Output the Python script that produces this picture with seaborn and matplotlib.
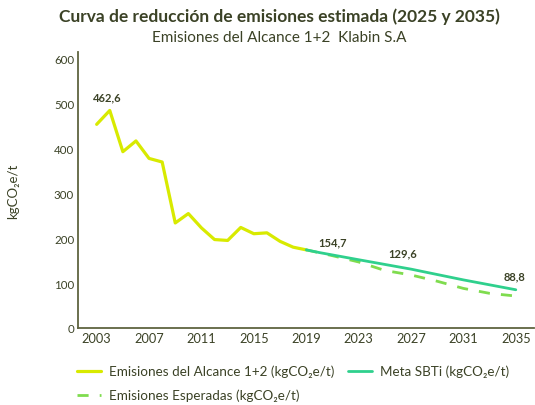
import matplotlib
matplotlib.use("Agg")
import matplotlib.pyplot as plt
import seaborn as sns
import pandas as pd

# ---- data ----
hist_years = list(range(2003, 2020))
hist_values = [454, 485, 393, 417, 378, 370, 234, 255, 223, 197, 195, 224, 210, 212, 193, 180, 174]

sbti_years = [2019, 2020, 2023, 2027, 2031, 2035]
sbti_values = [174, 168, 152, 131, 107, 85]

exp_years = [2019, 2021, 2023, 2025, 2027, 2029, 2031, 2033, 2035]
exp_values = [174, 161, 147, 128, 118, 104, 88, 77, 71]

labels_text = ["462,6", "154,7", "129,6", "88,8"]
labels_x = [2003.8, 2021.0, 2026.4, 2034.9]
labels_y = [516, 192, 167, 116]

xticks = list(range(2003, 2036, 4))
yticks = [0, 100, 200, 300, 400, 500, 600]

title = "Curva de reducción de emisiones estimada (2025 y 2035)"
subtitle = "Emisiones del Alcance 1+2  Klabin S.A"
ylabel = "kgCO₂e/t"
name_hist = "Emisiones del Alcance 1+2 (kgCO₂e/t)"
name_sbti = "Meta SBTi (kgCO₂e/t)"
name_exp = "Emisiones Esperadas (kgCO₂e/t)"

# ---- style ----
sns.set_theme(style="white")
plt.rcParams['font.family'] = ['Lato', 'DejaVu Sans']

TEXT = "#3b4226"
SPINE = "#5f6440"
YELLOW = "#d8ea00"
GREEN = "#2fd08d"
LGREEN = "#7fdc4e"

df_hist = pd.DataFrame({"year": hist_years, "value": hist_values})
df_sbti = pd.DataFrame({"year": sbti_years, "value": sbti_values})
df_exp = pd.DataFrame({"year": exp_years, "value": exp_values})

fig = plt.figure(figsize=(5.35, 4.06), dpi=100)
ax = fig.add_axes([0.1464, 0.19, 0.852, 0.679])

sns.lineplot(data=df_hist, x="year", y="value", ax=ax, color=YELLOW, linewidth=2.3,
             label=name_hist, zorder=3)
sns.lineplot(data=df_exp, x="year", y="value", ax=ax, color=LGREEN, linewidth=2.0,
             label=name_exp, zorder=3.5, dashes=False)
ax.lines[-1].set_dashes([4, 4])
sns.lineplot(data=df_sbti, x="year", y="value", ax=ax, color=GREEN, linewidth=2.0,
             label=name_sbti, zorder=4)

for t, x, y in zip(labels_text, labels_x, labels_y):
    ax.text(x, y, t, ha="center", va="center", fontsize=8, fontweight="bold", color=TEXT)

ax.set_xlim(2001.6, 2036.4)
ax.set_ylim(0, 615)
ax.set_xticks(xticks)
ax.set_yticks(yticks)
ax.tick_params(axis="x", labelsize=9.2, colors=TEXT, length=0, pad=3)
ax.tick_params(axis="y", labelsize=8.3, colors=TEXT, length=0, pad=3)
ax.set_xlabel("")
ax.set_ylabel(ylabel, fontsize=9.5, color=TEXT, labelpad=25)
for s in ["top", "right"]:
    ax.spines[s].set_visible(False)
for s in ["left", "bottom"]:
    ax.spines[s].set_color(SPINE)
    ax.spines[s].set_linewidth(1.3)
ax.grid(False)

fig.text(0.522, 0.958, title, ha="center", va="center", fontsize=12.5,
         fontweight="bold", color=TEXT)
fig.text(0.522, 0.907, subtitle, ha="center", va="center", fontsize=11, color=TEXT)

handles, lbls = ax.get_legend_handles_labels()
order = [lbls.index(name_hist), lbls.index(name_exp), lbls.index(name_sbti)]
leg = ax.legend([handles[i] for i in order], [lbls[i] for i in order],
                ncol=2, loc="upper left", bbox_to_anchor=(-0.03, -0.09),
                frameon=False, fontsize=9.7, handlelength=1.8, columnspacing=1.0,
                labelspacing=0.85, handletextpad=0.6)
for txt in leg.get_texts():
    txt.set_color(TEXT)

fig.savefig("out.png", dpi=100)
